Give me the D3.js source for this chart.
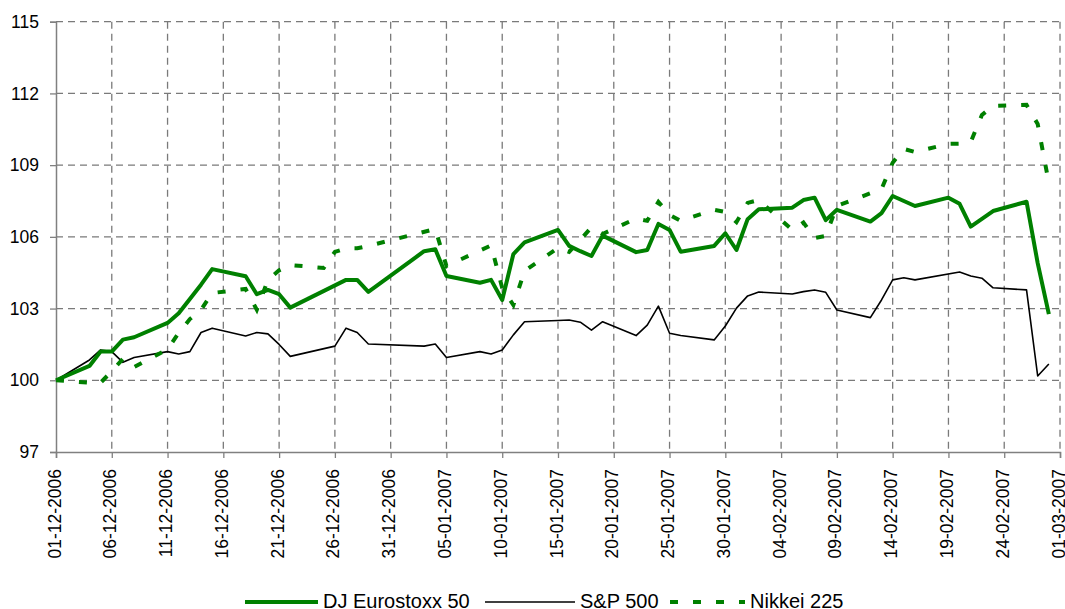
<!DOCTYPE html>
<html>
<head>
<meta charset="utf-8">
<script src="https://cdn.jsdelivr.net/npm/d3@7"></script>
<style>
  html, body { margin: 0; padding: 0; background: #ffffff; }
  svg { display: block; font-family: "Liberation Sans", Arial, sans-serif; }
</style>
</head>
<body>
<svg id="chart" width="1065" height="609"></svg>
<script>
// ---------------- DATA ----------------
const dates = [
  "01-12-2006","04-12-2006","05-12-2006","06-12-2006","07-12-2006","08-12-2006",
  "11-12-2006","12-12-2006","13-12-2006","14-12-2006","15-12-2006",
  "18-12-2006","19-12-2006","20-12-2006","21-12-2006","22-12-2006",
  "25-12-2006","26-12-2006","27-12-2006","28-12-2006","29-12-2006",
  "02-01-2007","03-01-2007","04-01-2007","05-01-2007",
  "08-01-2007","09-01-2007","10-01-2007","11-01-2007","12-01-2007",
  "15-01-2007","16-01-2007","17-01-2007","18-01-2007","19-01-2007",
  "22-01-2007","23-01-2007","24-01-2007","25-01-2007","26-01-2007",
  "29-01-2007","30-01-2007","31-01-2007","01-02-2007","02-02-2007",
  "05-02-2007","06-02-2007","07-02-2007","08-02-2007","09-02-2007",
  "12-02-2007","13-02-2007","14-02-2007","15-02-2007","16-02-2007",
  "19-02-2007","20-02-2007","21-02-2007","22-02-2007","23-02-2007",
  "26-02-2007","27-02-2007","28-02-2007"
];

const eurostoxx = [
  100.0, 100.6, 101.2, 101.2, 101.7, 101.8,
  102.4, 102.8, 103.4, 104.0, 104.65,
  104.35, 103.6, 103.78, 103.6, 103.04,
  null, null, 104.2, 104.2, 103.7,
  105.06, 105.4, 105.48, 104.36,
  104.08, 104.2, 103.36, 105.28, 105.77,
  106.29, 105.62, 105.4, 105.2, 106.05,
  105.36, 105.45, 106.54, 106.29, 105.38,
  105.62, 106.15, 105.45, 106.74, 107.15,
  107.22, 107.54, 107.64, 106.7, 107.13,
  106.64, 106.99, 107.71, 107.5, 107.29,
  107.64, 107.38, 106.43, 106.75, 107.08,
  107.47, 104.9, 102.77
];

const sp500 = [
  100.0, 100.85, 101.27, 101.2, 100.75, 100.95,
  101.2, 101.1, 101.2, 102.0, 102.18,
  101.85, 102.0, 101.94, 101.5, 101.0,
  null, 101.43, 102.18, 102.0, 101.52,
  null, 101.43, 101.52, 100.95,
  101.2, 101.1, 101.27, 101.9, 102.45,
  102.5, 102.52, 102.43, 102.1, 102.45,
  101.87, 102.31, 103.1, 101.97, 101.87,
  101.69, 102.27, 103.02, 103.53, 103.69,
  103.61, 103.71, 103.78, 103.68, 102.94,
  102.62, 103.36, 104.2, 104.29, 104.2,
  null, 104.53, 104.36, 104.27, 103.87,
  103.78, 100.18, 100.68
];

const nikkei = [
  100.0, 99.9, 99.9, 100.38, 100.9, 100.55,
  101.3, 101.98, 102.56, 102.95, 103.65,
  103.82, 102.95, 104.2, 104.6, 104.82,
  104.7, 105.37, 105.52, 105.52, 105.62,
  null, null, 106.33, 104.78,
  null, 105.64, 103.86, 103.15, 104.57,
  105.54, 105.37, 105.87, 106.4, 106.12,
  106.77, 106.67, 107.46, 106.92, 106.67,
  107.13, 107.04, 106.62, 107.42, 107.54,
  106.29, 106.6, 105.95, 106.04, 107.29,
  null, 108.0, 109.1, 109.68, 109.55,
  109.89, 109.9, 109.97, 111.1, 111.48,
  111.52, 110.72, 108.25
];

const xTickLabels = [
  "01-12-2006","06-12-2006","11-12-2006","16-12-2006","21-12-2006","26-12-2006",
  "31-12-2006","05-01-2007","10-01-2007","15-01-2007","20-01-2007","25-01-2007",
  "30-01-2007","04-02-2007","09-02-2007","14-02-2007","19-02-2007","24-02-2007",
  "01-03-2007"
];
const yTickValues = [97, 100, 103, 106, 109, 112, 115];

const seriesNames = ["DJ Eurostoxx 50", "S&P 500", "Nikkei 225"];

// ---------------- CHART ----------------
(function () {
const svg = d3.select("#chart");
const parse = d3.utcParse("%d-%m-%Y");
const pLeft = 56, pRight = 1060, pTop = 21.7, pBottom = 452;

const x = d3.scaleUtc()
  .domain([parse(xTickLabels[0]), parse(xTickLabels[xTickLabels.length - 1])])
  .range([pLeft, pRight]);
const y = d3.scaleLinear().domain([97, 115]).range([pBottom, pTop]);

const gridColor = "#7a7a7a";
const axisColor = "#808080";
const green = "#008000";

// gridlines
const grid = svg.append("g");
grid.selectAll("line.h").data(yTickValues.slice(1)).join("line")
  .attr("x1", pLeft).attr("x2", pRight)
  .attr("y1", d => y(d)).attr("y2", d => y(d))
  .attr("stroke", gridColor).attr("stroke-width", 1.3)
  .attr("stroke-dasharray", "7,5");
grid.selectAll("line.v").data(xTickLabels.slice(1)).join("line")
  .attr("x1", d => x(parse(d))).attr("x2", d => x(parse(d)))
  .attr("y1", pTop).attr("y2", pBottom)
  .attr("stroke", gridColor).attr("stroke-width", 1.3)
  .attr("stroke-dasharray", "7,5");

// axes
const yAxis = svg.append("g")
  .attr("transform", `translate(${pLeft},0)`)
  .call(d3.axisLeft(y).tickValues(yTickValues).tickSize(6).tickPadding(11).tickFormat(d3.format("d")));
const xAxis = svg.append("g")
  .attr("transform", `translate(0,${pBottom})`)
  .call(d3.axisBottom(x).tickValues(xTickLabels.map(parse)).tickSize(6)
        .tickFormat(d3.utcFormat("%d-%m-%Y")));

[yAxis, xAxis].forEach(g => {
  g.select(".domain").attr("stroke", axisColor).attr("stroke-width", 1.5);
  g.selectAll(".tick line").attr("stroke", axisColor).attr("stroke-width", 1.3);
  g.selectAll("text").attr("fill", "#000").attr("font-size", "17.5px")
    .attr("font-family", "'Liberation Sans', Arial, sans-serif");
});
xAxis.selectAll(".tick text")
  .attr("transform", "rotate(-90)")
  .attr("text-anchor", "end")
  .attr("x", -17)
  .attr("y", 0)
  .attr("dy", "0.23em");

// lines
const parsedDates = dates.map(parse);
function pts(vals) {
  return parsedDates.map((d, i) => ({ d, v: vals[i] })).filter(p => p.v !== null);
}
const line = d3.line().x(p => x(p.d)).y(p => y(p.v));

svg.append("path").datum(pts(sp500))
  .attr("d", line).attr("fill", "none")
  .attr("stroke", "#000").attr("stroke-width", 1.6).attr("stroke-linejoin", "round");
svg.append("path").datum(pts(nikkei))
  .attr("d", line).attr("fill", "none")
  .attr("stroke", green).attr("stroke-width", 4).attr("stroke-dasharray", "8,15");
svg.append("path").datum(pts(eurostoxx))
  .attr("d", line).attr("fill", "none")
  .attr("stroke", green).attr("stroke-width", 4).attr("stroke-linejoin", "round");

// legend
const legendY = 602;
const legendItems = [
  { name: seriesNames[0], x1: 245, x2: 318, color: green, w: 4, dash: null },
  { name: seriesNames[1], x1: 485, x2: 575, color: "#000", w: 1.6, dash: null },
  { name: seriesNames[2], x1: 670, x2: 745, color: green, w: 4, dash: "8,15" }
];
const lg = svg.append("g");
legendItems.forEach(it => {
  lg.append("line").attr("x1", it.x1).attr("x2", it.x2)
    .attr("y1", legendY).attr("y2", legendY)
    .attr("stroke", it.color).attr("stroke-width", it.w)
    .attr("stroke-dasharray", it.dash);
  lg.append("text").attr("x", it.x2 + 5).attr("y", legendY + 5.5)
    .attr("font-size", "20px").attr("fill", "#000").text(it.name);
});
})();
</script>
</body>
</html>
